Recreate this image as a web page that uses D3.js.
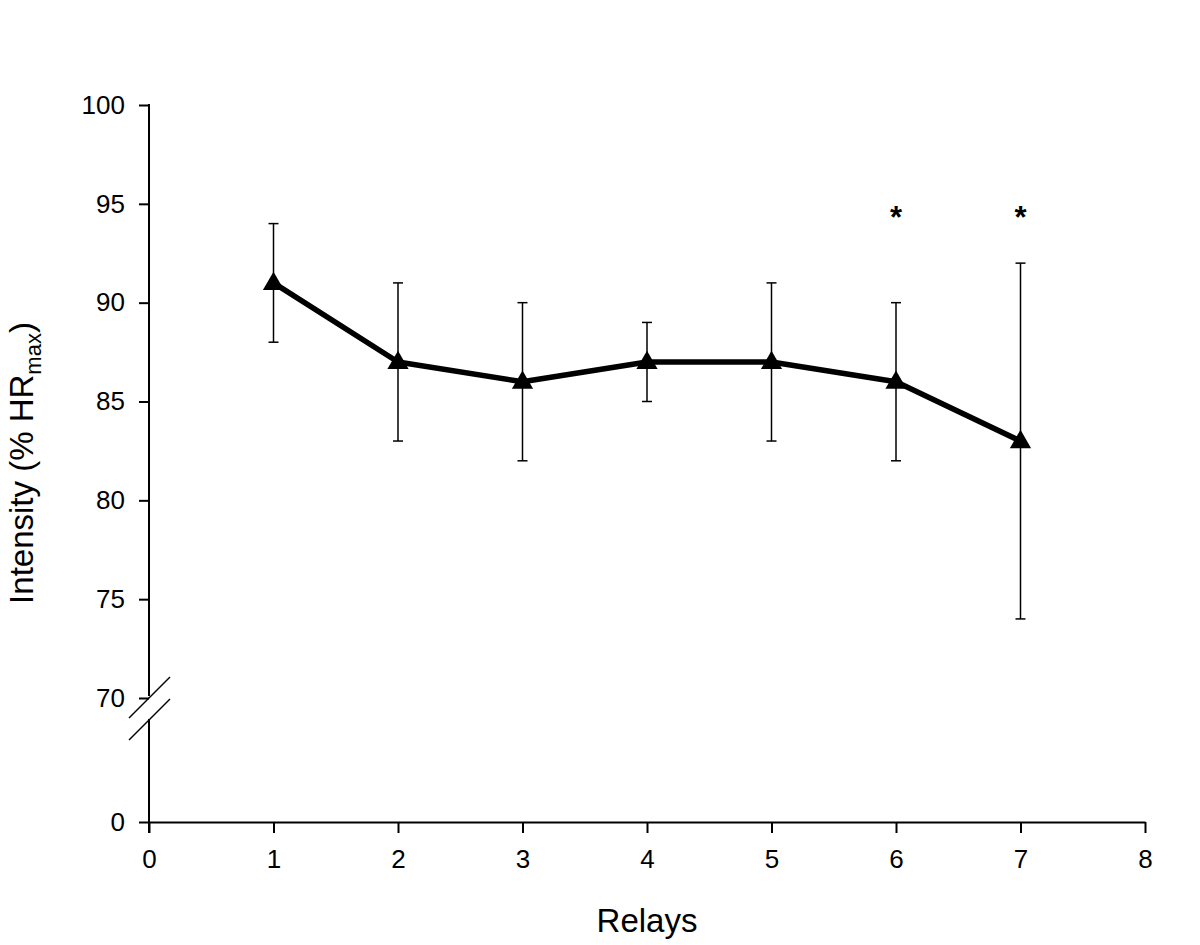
<!DOCTYPE html>
<html lang="en">
<head>
<meta charset="utf-8">
<style>
  body { margin: 0; background: #fff; }
  text { font-family: "Liberation Sans", Arial, sans-serif; fill: #000; }
</style>
</head>
<body>
<div id="chart"></div>
<script src="https://d3js.org/d3.v7.min.js"></script>
<script>
// data
var relays = [1, 2, 3, 4, 5, 6, 7];
var means = [91, 87, 86, 87, 87, 86, 83];
var upper = [94, 91, 90, 89, 91, 90, 92];
var lower = [88, 83, 82, 85, 83, 82, 74];
var starRelays = [6, 7];
var starLevel = 94.6;
var xTicks = [0, 1, 2, 3, 4, 5, 6, 7, 8];
var yTicksTop = [70, 75, 80, 85, 90, 95, 100];
var yTicksBottom = [0];

var width = 1200, height = 945;

var svg = d3.select("#chart").append("svg")
    .attr("width", width)
    .attr("height", height);

var x = d3.scaleLinear().domain([0, 8]).range([149, 1145]);
var y = d3.scaleLinear().domain([70, 100]).range([698, 105]);
var yLow = d3.scaleLinear().domain([0, 5]).range([822, 721]);
var fmt = d3.format("d");

var data = relays.map(function (r, i) {
    return { r: r, m: means[i], hi: upper[i], lo: lower[i] };
});

// x axis
var xAxis = svg.append("g")
    .attr("transform", "translate(0,822)")
    .call(d3.axisBottom(x).tickValues(xTicks).tickFormat(fmt)
        .tickSize(11).tickPadding(17).tickSizeOuter(0));
xAxis.select(".domain").attr("stroke-width", 2);
xAxis.selectAll(".tick line").attr("stroke-width", 2);
xAxis.selectAll("text").attr("font-size", 26).style("font-size", "26px");

// y axis, upper part
var yAxis = svg.append("g")
    .attr("transform", "translate(149,0)")
    .call(d3.axisLeft(y).tickValues(yTicksTop).tickFormat(fmt)
        .tickSize(10).tickPadding(14).tickSizeOuter(0));
yAxis.select(".domain").remove();
yAxis.selectAll(".tick line").attr("stroke-width", 2);
yAxis.selectAll("text").attr("font-size", 26).style("font-size", "26px");
svg.append("line")
    .attr("x1", 149).attr("x2", 149)
    .attr("y1", y(100) - 1).attr("y2", 696)
    .attr("stroke", "#000").attr("stroke-width", 2);

// y axis, lower part
var yAxisLow = svg.append("g")
    .attr("transform", "translate(149,0)")
    .call(d3.axisLeft(yLow).tickValues(yTicksBottom).tickFormat(fmt)
        .tickSize(10).tickPadding(14).tickSizeOuter(0));
yAxisLow.select(".domain").remove();
yAxisLow.selectAll(".tick line").attr("stroke-width", 2);
yAxisLow.selectAll("text").attr("font-size", 26).style("font-size", "26px");
svg.append("line")
    .attr("x1", 149).attr("x2", 149)
    .attr("y1", 719).attr("y2", 833)
    .attr("stroke", "#000").attr("stroke-width", 2);

// break marks
[0, 22].forEach(function (dy) {
    svg.append("line")
        .attr("x1", 129).attr("y1", 718 + dy)
        .attr("x2", 170).attr("y2", 677 + dy)
        .attr("stroke", "#000").attr("stroke-width", 1.5);
});

// error bars
var eb = svg.append("g").attr("stroke", "#000").attr("stroke-width", 1.5);
eb.selectAll(".v").data(data).enter().append("line")
    .attr("x1", function (d) { return x(d.r); })
    .attr("x2", function (d) { return x(d.r); })
    .attr("y1", function (d) { return y(d.hi); })
    .attr("y2", function (d) { return y(d.lo); });
eb.selectAll(".capHi").data(data).enter().append("line")
    .attr("x1", function (d) { return x(d.r) - 5; })
    .attr("x2", function (d) { return x(d.r) + 5; })
    .attr("y1", function (d) { return y(d.hi); })
    .attr("y2", function (d) { return y(d.hi); });
eb.selectAll(".capLo").data(data).enter().append("line")
    .attr("x1", function (d) { return x(d.r) - 5; })
    .attr("x2", function (d) { return x(d.r) + 5; })
    .attr("y1", function (d) { return y(d.lo); })
    .attr("y2", function (d) { return y(d.lo); });

// line
var line = d3.line()
    .x(function (d) { return x(d.r); })
    .y(function (d) { return y(d.m); });
svg.append("path")
    .datum(data)
    .attr("d", line)
    .attr("fill", "none")
    .attr("stroke", "#000")
    .attr("stroke-width", 5.5)
    .attr("stroke-linejoin", "round");

// triangle markers
var tri = d3.symbol().type(d3.symbolTriangle).size(195);
svg.selectAll(".marker").data(data).enter().append("path")
    .attr("d", tri)
    .attr("transform", function (d) { return "translate(" + x(d.r) + "," + (y(d.m) + 1) + ")"; })
    .attr("fill", "#000");

// significance stars
svg.selectAll(".star").data(starRelays).enter().append("text")
    .attr("x", function (d) { return x(d); })
    .attr("y", y(starLevel) + 16)
    .attr("text-anchor", "middle")
    .style("font-size", "31px")
    .style("font-weight", "bold")
    .text("*");

// axis titles
svg.append("text")
    .attr("x", x(4))
    .attr("y", 932)
    .attr("text-anchor", "middle")
    .style("font-size", "33px")
    .text("Relays");

var yt = svg.append("text")
    .attr("transform", "translate(33,463) rotate(-90)")
    .attr("text-anchor", "middle")
    .style("font-size", "33px");
yt.append("tspan").text("Intensity (% HR");
yt.append("tspan").attr("dy", 8).style("font-size", "22px").text("max");
yt.append("tspan").attr("dy", -8).text(")");
</script>
</body>
</html>
